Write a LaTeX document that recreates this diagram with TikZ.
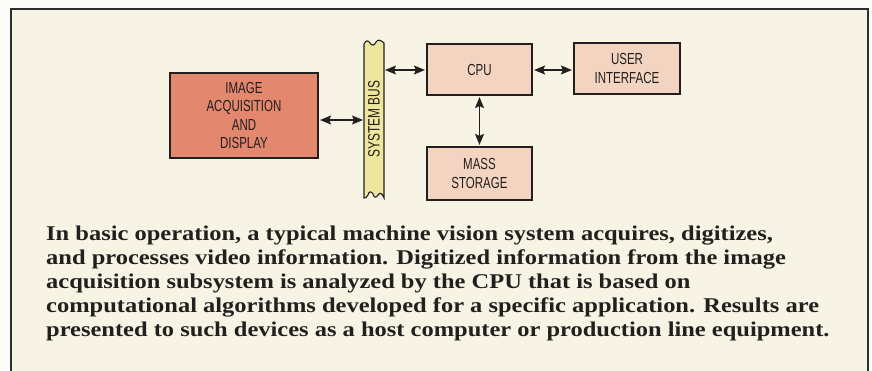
\documentclass[tikz,border=0pt]{standalone}
\usepackage{fontspec}
\usetikzlibrary{arrows.meta}
\newfontfamily\boxfont[FakeStretch=0.72]{Liberation Sans}
\newfontfamily\capfont[FakeStretch=1.165]{Liberation Serif}
\definecolor{outsidebg}{HTML}{FBFBF8}
\definecolor{cream}{HTML}{F8F4E5}
\definecolor{framec}{HTML}{2E2E2E}
\definecolor{salmon}{HTML}{E4876F}
\definecolor{peach}{HTML}{F3D4C0}
\definecolor{busyellow}{HTML}{EEE69C}
\definecolor{inkc}{HTML}{231F1E}
\tikzset{
  x=1pt, y=-1pt,
  blockbox/.style={draw=inkc, line width=2.2pt, inner sep=0pt, align=center,
    font=\boxfont\fontsize{16}{18.3}\selectfont, text=inkc},
  conn/.style={inkc, line width=1.2pt, {Stealth[length=11pt,width=9pt,inset=2pt]}-{Stealth[length=11pt,width=9pt,inset=2pt]}, shorten <=1pt, shorten >=1pt},
  capline/.style={anchor=base west, inner sep=0pt, text=inkc,
    font=\capfont\bfseries\fontsize{21}{24}\selectfont},
}
\begin{document}
\begin{tikzpicture}
\useasboundingbox (0,0) rectangle (872,370);
\fill[outsidebg] (0,0) rectangle (872,370);
\fill[cream] (11,9) rectangle (868,372);
\draw[framec, line width=2pt] (11,372) -- (11,9) -- (868,9) -- (868,372);

% system bus
\filldraw[fill=busyellow, draw=inkc, line width=1.1pt]
  (364,198) -- (364,44)
  .. controls (366,40) and (368,40) .. (370,43)
  .. controls (372,46) and (374,46) .. (376,42)
  .. controls (378,39) and (381,40) .. (384,43)
  -- (384,198)
  .. controls (382,193) and (380,192) .. (378,195)
  .. controls (376,198) and (374,198) .. (373,194)
  .. controls (371,191) and (369,191) .. (368,195)
  .. controls (367,198) and (365,198) .. (364,198) -- cycle;
\node[rotate=90, font=\boxfont\fontsize{16.5}{18}\selectfont, text=inkc] (bus) at (374,119) {SYSTEM BUS};
\coordinate (busL) at (364,120);
\coordinate (busR) at (384,70);

\node[blockbox, fill=salmon, minimum width=148pt, minimum height=85pt] (img) at (244,115.5) {IMAGE\\ACQUISITION\\AND\\DISPLAY};
\node[blockbox, fill=peach, minimum width=105pt, minimum height=51pt] (cpu) at (479.5,69.5) {CPU};
\node[blockbox, fill=peach, minimum width=106pt, minimum height=51pt] (ui) at (627,68.5) {USER\\INTERFACE};
\node[blockbox, fill=peach, minimum width=105pt, minimum height=53pt] (mass) at (479.5,173.5) {MASS\\STORAGE};

\draw[conn] (img.east |- busL) -- (busL);
\draw[conn] (busR) -- (cpu.west |- busR);
\draw[conn] (cpu.east |- busR) -- (ui.west |- busR);
\draw[conn] (cpu.south) -- (mass.north);

\node[capline] (l1) at (46,240) {In basic operation, a typical machine vision system acquires, digitizes,};
\node[capline] (l2) at (46,264) {and processes video information. Digitized information from the image};
\node[capline] (l3) at (46,288) {acquisition subsystem is analyzed by the CPU that is based on};
\node[capline] (l4) at (46,312) {computational algorithms developed for a specific application. Results are};
\node[capline] (l5) at (46,336) {presented to such devices as a host computer or production line equipment.};
\end{tikzpicture}
\end{document}
